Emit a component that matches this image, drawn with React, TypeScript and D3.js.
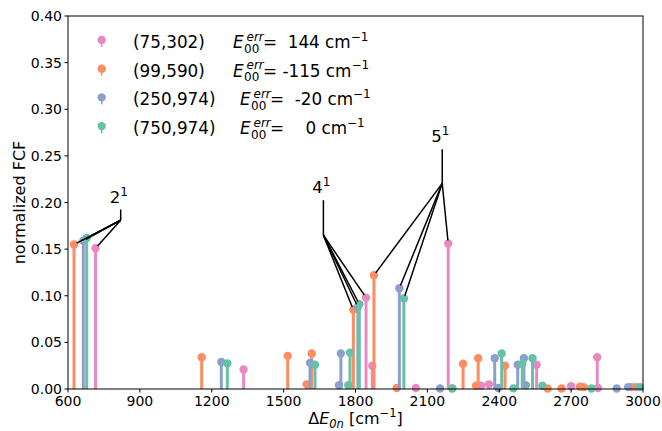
import React from "react";
import * as d3 from "d3";

// peaks: [ΔE (cm-1), normalized FCF]
const pinkPeaks = [
  [715, 0.151], [1333, 0.021], [1844, 0.098], [1870, 0.025], [2052, 0.001],
  [2187, 0.156], [2324, 0.0035], [2357, 0.005], [2556, 0.026], [2700, 0.003],
  [2809, 0.034], [2812, 0.001], [2970, 0.002],
];
const orangePeaks = [
  [625, 0.155], [1158, 0.034], [1517, 0.0355], [1596, 0.005], [1617, 0.038],
  [1791, 0.085], [1877, 0.122], [1972, 0.001], [2204, 0.0005], [2249, 0.027],
  [2303, 0.0035], [2312, 0.033], [2424, 0.025], [2602, 0.0005], [2660, 0.0005],
  [2737, 0.0025], [2753, 0.002], [2952, 0.002],
];
const bluePeaks = [
  [664, 0.159], [1240, 0.029], [1610, 0.028], [1731, 0.004], [1739, 0.038],
  [1810, 0.088], [1983, 0.108], [2153, 0.0005], [2381, 0.033], [2396, 0.001],
  [2477, 0.026], [2503, 0.033], [2511, 0.004], [2890, 0.0005], [2938, 0.002],
];
const greenPeaks = [
  [678, 0.162], [1265, 0.0275], [1631, 0.026], [1770, 0.004], [1777, 0.039],
  [1816, 0.091], [2002, 0.097], [2204, 0.0007], [2410, 0.038], [2459, 0.0007],
  [2496, 0.027], [2539, 0.033], [2580, 0.0035], [2785, 0.0005], [2987, 0.002],
];

const seriesPeaks = [pinkPeaks, orangePeaks, bluePeaks, greenPeaks];
const seriesLabels = ["(75,302)", "(99,590)", "(250,974)", "(750,974)"];
const e00Err = [144, -115, -20, 0];
const colors = ["#e78ac3", "#fc8d62", "#8da0cb", "#66c2a5"];

const xTicks = [600, 900, 1200, 1500, 1800, 2100, 2400, 2700, 3000];
const yTicks = [0, 0.05, 0.1, 0.15, 0.2, 0.25, 0.3, 0.35, 0.4];

// mode labels, text position in data units, elbow height, and the peak x per series
const annotations = [
  { mode: "2", tx: 820, ty: 0.2, elbow: 0.181, targets: [715, 625, 664, 678] },
  { mode: "4", tx: 1666, ty: 0.21, elbow: 0.165, targets: [1844, 1791, 1810, 1816] },
  { mode: "5", tx: 2162, ty: 0.2645, elbow: 0.2205, targets: [2187, 1877, 1983, 2002] },
];

const W = 662;
const H = 431;
const font = "DejaVu Sans, sans-serif";

export default function App() {
  const x = d3.scaleLinear().domain([600, 3000]).range([68, 643]);
  const y = d3.scaleLinear().domain([0, 0.4]).range([389, 16]);
  const [x0, x1] = x.range();
  const [y0, y1] = y.range();

  const peakY = (s: number, px: number) =>
    (seriesPeaks[s].find((p) => p[0] === px) || [px, 0])[1];

  return (
    <svg
      width={W}
      height={H}
      style={{ position: "absolute", left: 0, top: 0, fontFamily: font }}
    >
      <rect width={W} height={H} fill="#fff" />

      {/* stems */}
      {seriesPeaks.map((peaks, s) => (
        <g key={s}>
          {peaks.map(([px, py], i) => (
            <g key={i}>
              <line
                x1={x(px)}
                x2={x(px)}
                y1={y(0)}
                y2={y(py)}
                stroke={colors[s]}
                strokeWidth={3}
              />
              <circle cx={x(px)} cy={y(py)} r={4.2} fill={colors[s]} />
            </g>
          ))}
        </g>
      ))}

      {/* annotations */}
      {annotations.map((a, k) => {
        const ex = x(a.tx);
        const ey = y(a.elbow);
        const by = y(a.ty);
        return (
          <g key={k}>
            <text x={ex - 2} y={by} fontSize={16.5} textAnchor="middle">
              {a.mode}
              <tspan fontSize={12} dy={-7}>1</tspan>
            </text>
            <line x1={ex} x2={ex} y1={by + 7} y2={ey} stroke="#000" strokeWidth={1.5} />
            {a.targets.map((tx, s) => {
              const px = x(tx);
              const py = y(peakY(s, tx));
              const len = Math.hypot(px - ex, py - ey);
              const sh = 3 / len;
              return (
                <line
                  key={s}
                  x1={ex}
                  y1={ey}
                  x2={px - (px - ex) * sh}
                  y2={py - (py - ey) * sh}
                  stroke="#000"
                  strokeWidth={1.5}
                />
              );
            })}
          </g>
        );
      })}

      {/* frame */}
      <rect
        x={x0}
        y={y1}
        width={x1 - x0}
        height={y0 - y1}
        fill="none"
        stroke="#000"
        strokeWidth={1}
      />

      {/* x axis */}
      {xTicks.map((t) => (
        <g key={t}>
          <line x1={x(t)} x2={x(t)} y1={y0} y2={y0 + 3.5} stroke="#000" />
          <text x={x(t)} y={y0 + 17} fontSize={14} textAnchor="middle">
            {t}
          </text>
        </g>
      ))}
      <text x={(x0 + x1) / 2} y={424} fontSize={16} textAnchor="middle">
        Δ<tspan fontStyle="italic">E</tspan>
        <tspan fontStyle="italic" fontSize={11.5} dy={4}>0n</tspan>
        <tspan dy={-4}> [cm</tspan>
        <tspan fontSize={11.5} dy={-7}>−1</tspan>
        <tspan dy={7}>]</tspan>
      </text>

      {/* y axis */}
      {yTicks.map((t) => (
        <g key={t}>
          <line x1={x0 - 3.5} x2={x0} y1={y(t)} y2={y(t)} stroke="#000" />
          <text
            x={x0 - 6}
            y={y(t)}
            fontSize={14}
            textAnchor="end"
            dominantBaseline="central"
          >
            {d3.format(".2f")(t)}
          </text>
        </g>
      ))}
      <text
        transform={`translate(25,${(y0 + y1) / 2}) rotate(-90)`}
        fontSize={16}
        textAnchor="middle"
      >
        normalized FCF
      </text>

      {/* legend */}
      {seriesLabels.map((lab, i) => {
        const base = 48 + i * 28.7;
        // E column starts after the label, which is about 7px per character
        const ex = 177 + 7 * lab.length;
        return (
          <g key={lab}>
            <line
              x1={101.7}
              x2={101.7}
              y1={base - 8}
              y2={base - 1}
              stroke={colors[i]}
              strokeWidth={1.5}
            />
            <circle cx={101.7} cy={base - 8} r={4.2} fill={colors[i]} />
            <text x={133} y={base} fontSize={16.8}>
              {lab}
            </text>
            <text x={ex} y={base} fontSize={16.8} fontStyle="italic">
              E
            </text>
            <text x={ex + 13.5} y={base - 7.5} fontSize={12} fontStyle="italic">
              err
            </text>
            <text x={ex + 11} y={base + 4.5} fontSize={12}>
              00
            </text>
            <text x={ex + 30} y={base} fontSize={16.8} style={{ whiteSpace: "pre" }}>
              {"=" + String(e00Err[i]).padStart(5) + " cm"}
              <tspan fontSize={12} dy={-7.5}>−1</tspan>
            </text>
          </g>
        );
      })}
    </svg>
  );
}
